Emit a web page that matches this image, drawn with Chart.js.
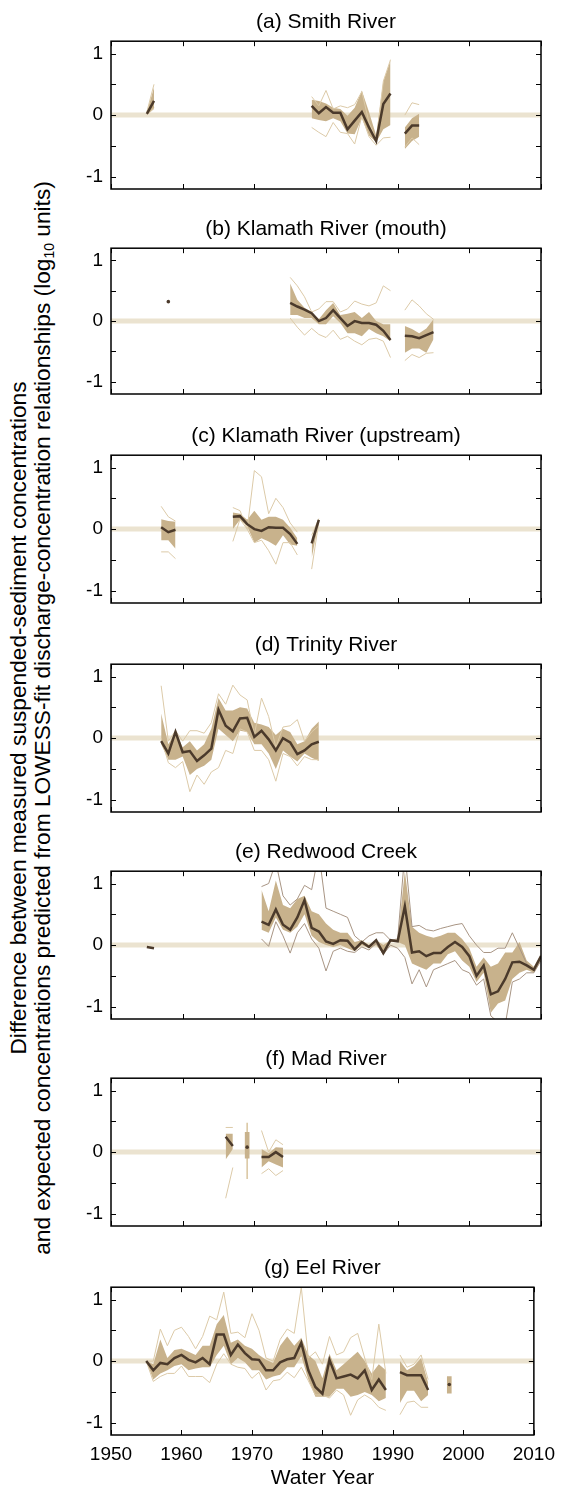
<!DOCTYPE html>
<html lang="en">
  <head>
    <meta charset="UTF-8" />
    <script src="https://cdn.jsdelivr.net/npm/chart.js"></script>
    <title>Suspended-sediment residuals, North Coast rivers</title>
    <style>
      body { margin: 0; background: #fff; }
      #page {
        position: relative;
        width: 563px;
        height: 1493px;
        overflow: hidden;
        font-family: "Liberation Sans", Arial, sans-serif;
      }
      .panel { position: absolute; left: 0; }
      #ylab {
        position: absolute;
        left: -670px;
        top: 694px;
        width: 1400px;
        line-height: 24px;
        font-size: 22.7px;
        text-align: center;
        white-space: nowrap;
        color: #000;
        transform: rotate(-90deg);
        transform-origin: 700px 24px;
      }
      #ylab sub { font-size: 14px; vertical-align: -4px; line-height: 0; }
    </style>
  </head>
  <body>
    <div id="page">
      <div id="ylab">Difference between measured suspended-sediment concentrations<br>and expected concentrations predicted from LOWESS-fit discharge-concentration relationships (log<sub>10</sub> units)</div>
    </div>
    <script>
      // axis setup
      const xRange = [1950, 2010];
      const xTickYears = [1950, 1960, 1970, 1980, 1990, 2000, 2010];
      const yTickVals = [-1, -0.5, 0, 0.5, 1];
      const zeroLine = [0, 0];

      // (a) Smith River  -- null rows break the line
      const aYears  = [1955, 1956, 1957, 1978, 1979, 1980, 1981, 1982, 1983, 1984, 1985, 1986, 1987, 1988, 1989, 1990, 1991, 1992, 1993];
      const aMed    = [0.02, 0.23, null, 0.15, 0.03, 0.13, 0.04, 0.04, -0.23, -0.09, 0.05, -0.2, -0.42, 0.18, 0.35, null, -0.3, -0.17, -0.17];
      const aBandHi = [0.05, 0.45, null, 0.25, 0.23, 0.19, 0.12, 0.1, -0.01, 0.12, 0.4, 0.05, -0.33, 0.55, 0.89, null, -0.2, -0.05, 0.02];
      const aBandLo = [0.0, 0.1, null, -0.05, -0.08, -0.1, -0.05, -0.1, -0.3, -0.31, -0.05, -0.33, -0.44, -0.23, -0.16, null, -0.55, -0.42, -0.35];
      const aEnvHi  = [0.05, 0.5, null, 0.3, 0.15, 0.4, 0.1, 0.15, 0.12, 0.17, 0.38, -0.12, -0.4, 0.55, 0.9, null, 0.0, 0.2, 0.17];
      const aEnvLo  = [0.0, 0.12, null, -0.2, -0.28, -0.35, -0.12, -0.28, -0.3, -0.47, -0.02, -0.35, -0.49, -0.37, -0.36, null, -0.52, -0.37, -0.48];

      // (b) Klamath River (mouth)
      const bYears  = [1958, 1959, 1975, 1976, 1977, 1978, 1979, 1980, 1981, 1982, 1983, 1984, 1985, 1986, 1987, 1988, 1989, 1990, 1991, 1992, 1993, 1994, 1995];
      const bMed    = [0.32, null, 0.3, 0.24, 0.19, 0.13, 0.0, 0.05, 0.18, 0.05, -0.08, 0.0, -0.03, -0.03, -0.06, -0.16, -0.31, null, -0.24, -0.25, -0.28, -0.23, -0.18];
      const bBandHi = [null, null, 0.62, 0.35, 0.22, 0.15, 0.03, 0.18, 0.3, 0.1, 0.12, 0.15, 0.05, 0.15, 0.0, -0.05, -0.05, null, -0.08, -0.13, -0.2, -0.12, 0.03];
      const bBandLo = [null, null, 0.1, 0.1, 0.05, 0.05, -0.05, -0.05, 0.08, -0.03, -0.2, -0.2, -0.25, -0.13, -0.2, -0.25, -0.33, null, -0.52, -0.45, -0.45, -0.52, -0.3];
      const bEnvHi  = [null, null, 0.72, 0.58, 0.4, 0.15, 0.2, 0.32, 0.32, 0.15, 0.2, 0.33, 0.28, 0.25, 0.3, 0.58, 0.5, null, 0.18, 0.35, 0.25, 0.12, 0.03];
      const bEnvLo  = [null, null, 0.05, -0.1, -0.23, -0.12, -0.22, -0.27, -0.15, -0.3, -0.25, -0.33, -0.39, -0.3, -0.28, -0.33, -0.6, null, -0.65, -0.55, -0.6, -0.53, -0.52];

      // (c) Klamath River (upstream)
      const cYears  = [1957, 1958, 1959, 1960, 1967, 1968, 1969, 1970, 1971, 1972, 1973, 1974, 1975, 1976, 1977, 1978, 1979];
      const cMed    = [0.03, -0.05, -0.01, null, 0.2, 0.21, 0.08, 0.0, -0.03, 0.03, 0.02, 0.02, -0.08, -0.24, null, -0.23, 0.15];
      const cBandHi = [0.16, 0.13, 0.12, null, 0.27, 0.25, 0.15, 0.3, 0.15, 0.2, 0.2, 0.15, 0.02, -0.15, null, -0.15, 0.17];
      const cBandLo = [-0.18, -0.18, -0.32, null, 0.0, 0.15, 0.05, -0.22, -0.15, -0.2, -0.27, -0.1, -0.25, -0.27, null, -0.47, 0.12];
      const cEnvHi  = [0.37, 0.2, 0.13, null, 0.35, 0.3, 0.0, 0.95, 0.85, 0.25, 0.5, 0.35, 0.1, -0.05, null, -0.1, 0.17];
      const cEnvLo  = [-0.37, -0.37, -0.48, null, -0.2, 0.16, 0.0, -0.22, -0.18, -0.35, -0.57, -0.22, -0.22, -0.42, null, -0.65, 0.12];

      // (d) Trinity River
      const dYears  = [1957, 1958, 1959, 1960, 1961, 1962, 1963, 1964, 1965, 1966, 1967, 1968, 1969, 1970, 1971, 1972, 1973, 1974, 1975, 1976, 1977, 1978, 1979];
      const dMed    = [-0.05, -0.25, 0.1, -0.23, -0.21, -0.37, -0.28, -0.17, 0.46, 0.2, 0.11, 0.32, 0.33, 0.02, 0.12, -0.02, -0.2, 0.0, -0.07, -0.26, -0.2, -0.1, -0.06];
      const dBandHi = [0.4, -0.1, 0.1, -0.15, -0.05, -0.2, -0.1, 0.15, 0.65, 0.45, 0.45, 0.5, 0.48, 0.25, 0.22, 0.18, 0.05, 0.15, 0.1, -0.1, -0.05, 0.15, 0.27];
      const dBandLo = [-0.1, -0.35, -0.35, -0.3, -0.6, -0.5, -0.45, -0.35, 0.15, 0.05, -0.05, 0.12, 0.1, -0.1, -0.1, -0.25, -0.5, -0.2, -0.3, -0.38, -0.25, -0.32, -0.37];
      const dEnvHi  = [0.85, -0.05, 0.12, -0.05, 0.12, 0.12, 0.08, 0.25, 0.72, 0.55, 0.86, 0.7, 0.62, 0.05, 0.65, 0.35, -0.15, 0.18, 0.2, 0.3, -0.05, 0.1, 0.2];
      const dEnvLo  = [0.0, -0.4, -0.48, -0.38, -0.87, -0.6, -0.75, -0.55, -0.48, -0.2, -0.25, 0.15, 0.1, -0.2, -0.2, -0.35, -0.7, -0.25, -0.3, -0.45, -0.3, -0.35, -0.35];

      // (e) Redwood Creek
      const eYears  = [1955, 1956, 1957, 1971, 1972, 1973, 1974, 1975, 1976, 1977, 1978, 1979, 1980, 1981, 1982, 1983, 1984, 1985, 1986, 1987, 1988, 1989, 1990,
                       1991, 1992, 1993, 1994, 1995, 1996, 1997, 1998, 1999, 2000, 2001, 2002, 2003, 2004, 2005, 2006, 2007, 2008, 2009, 2010];
      const eMed    = [-0.03, -0.05, null, 0.38, 0.33, 0.58, 0.33, 0.25, 0.45, 0.73, 0.28, 0.22, 0.06, 0.02, 0.08, 0.07, -0.07, 0.05, -0.03, 0.08, -0.13, 0.08, 0.06,
                       0.63, -0.12, -0.1, -0.18, -0.13, -0.13, -0.03, 0.05, -0.03, -0.18, -0.5, -0.33, -0.8, -0.75, -0.55, -0.28, -0.27, -0.33, -0.4, -0.18];
      const eBandHi = [null, null, null, 0.9, 0.55, 1.05, 0.65, 0.6, 0.75, 0.8, 0.55, 0.5, 0.35, 0.25, 0.2, 0.2, 0.05, 0.08, 0.0, 0.08, 0.0, 0.08, 0.1,
                       1.2, 0.3, 0.2, 0.15, 0.12, 0.15, 0.2, 0.2, 0.1, -0.05, -0.35, -0.2, -0.35, -0.3, -0.12, -0.12, 0.05, -0.25, -0.35, -0.15];
      const eBandLo = [null, null, null, 0.25, 0.2, 0.45, 0.25, 0.2, 0.3, 0.5, 0.15, 0.05, 0.0, -0.03, 0.0, -0.05, -0.1, 0.0, -0.05, 0.0, -0.15, 0.05, 0.05,
                       0.0, -0.3, -0.35, -0.4, -0.3, -0.3, -0.15, -0.1, -0.25, -0.35, -0.6, -0.45, -1.1, -0.95, -0.9, -0.55, -0.45, -0.4, -0.45, -0.25];
      const eEnvHi  = [null, null, null, 0.95, 1.0, 1.35, 0.8, 0.65, 0.75, 0.97, 0.9, 1.5, 0.6, 0.55, 0.5, 0.45, 0.15, 0.05, 0.15, 0.2, 0.2, 0.08, 0.1,
                       1.5, 0.3, 0.32, 0.25, 0.23, 0.27, 0.3, 0.33, 0.35, 0.15, 0.0, -0.12, -0.12, -0.05, -0.05, 0.2, -0.05, -0.3, -0.4, -0.2];
      const eEnvLo  = [null, null, null, 0.1, -0.02, 0.38, 0.15, -0.13, 0.2, 0.35, 0.1, -0.05, -0.42, -0.1, -0.05, -0.1, -0.12, -0.03, -0.08, 0.03, -0.15, 0.0, -0.05,
                       -0.2, -0.63, -0.4, -0.68, -0.4, -0.35, -0.3, -0.25, -0.4, -0.45, -0.65, -0.55, -1.15, -1.25, -1.3, -0.6, -0.55, -0.45, -0.45, -0.25];

      // (f) Mad River
      const fYears  = [1966, 1967, 1968, 1969, 1970, 1971, 1972, 1973, 1974];
      const fMed    = [0.25, 0.1, null, 0.08, null, -0.08, -0.08, 0.0, -0.08];
      const fBandHi = [0.3, 0.3, null, null, null, 0.05, -0.02, 0.08, 0.07];
      const fBandLo = [-0.12, 0.05, null, null, null, -0.25, -0.15, -0.2, -0.25];
      const fEnvHi  = [0.4, 0.4, null, null, null, 0.35, 0.0, 0.2, 0.12];
      const fEnvLo  = [-0.75, -0.25, null, null, null, -0.35, -0.27, -0.38, -0.3];
      const fIsoYears = [1969];
      const fIsoLo    = [-0.1];
      const fIsoHi    = [0.32];
      const fIsoEnvLo = [-0.43];
      const fIsoEnvHi = [0.47];

      // (g) Eel River
      const gYears  = [1955, 1956, 1957, 1958, 1959, 1960, 1961, 1962, 1963, 1964, 1965, 1966, 1967, 1968, 1969, 1970, 1971, 1972,
                       1973, 1974, 1975, 1976, 1977, 1978, 1979, 1980, 1981, 1982, 1983, 1984, 1985, 1986, 1987, 1988, 1989,
                       1990, 1991, 1992, 1993, 1994, 1995, 1996, 1998];
      const gMed    = [0.0, -0.15, -0.03, -0.05, 0.05, 0.1, 0.02, -0.02, 0.05, -0.05, 0.43, 0.43, 0.1, 0.27, 0.13, 0.03, 0.02, -0.15,
                       -0.15, -0.02, 0.03, 0.05, 0.3, -0.15, -0.42, -0.53, 0.02, -0.28, -0.25, -0.22, -0.28, -0.15, -0.47, -0.3, -0.47,
                       null, -0.18, -0.23, -0.23, -0.23, -0.47, null, -0.38];
      const gBandHi = [0.0, -0.05, 0.35, 0.05, 0.18, 0.2, 0.15, 0.1, 0.25, 0.25, 0.6, 0.75, 0.3, 0.35, 0.25, 0.2, 0.1, 0.02,
                       -0.03, 0.25, 0.4, 0.25, 0.38, 0.1, 0.0, -0.28, 0.12, -0.15, -0.05, 0.05, 0.15, 0.0, -0.2, -0.05, -0.15,
                       null, 0.0, -0.15, -0.08, 0.05, -0.35, null, null];
      const gBandLo = [0.0, -0.3, -0.2, -0.15, -0.08, -0.05, -0.15, -0.12, -0.1, -0.1, 0.1, 0.25, -0.05, 0.05, -0.02, -0.15, -0.15, -0.3,
                       -0.25, -0.22, -0.1, -0.1, 0.08, -0.3, -0.58, -0.58, -0.58, -0.45, -0.45, -0.58, -0.55, -0.5, -0.55, -0.65, -0.6,
                       null, -0.68, -0.48, -0.48, -0.65, -0.55, null, null];
      const gEnvHi  = [0.0, 0.0, 0.52, 0.25, 0.5, 0.55, 0.4, 0.2, 0.4, 0.73, 0.67, 1.12, 0.45, 0.47, 0.38, 0.77, 0.5, 0.05,
                       0.0, 0.35, 0.52, 0.45, 1.2, 0.05, 0.15, -0.05, 0.4, 0.1, 0.15, 0.38, 0.45, 0.05, -0.3, 0.6, -0.2,
                       null, 0.1, -0.1, -0.05, 0.1, -0.3, null, null];
      const gEnvLo  = [0.0, -0.33, -0.25, -0.2, -0.2, -0.08, -0.25, -0.25, -0.25, -0.35, -0.05, 0.12, -0.05, -0.1, -0.12, -0.28, -0.18, -0.47,
                       -0.32, -0.3, -0.18, -0.27, -0.1, -0.32, -0.55, -0.55, -0.6, -0.47, -0.55, -0.88, -0.63, -0.55, -0.62, -0.75, -0.8,
                       null, -0.87, -0.67, -0.65, -0.75, -0.75, null, null];
      const gIsoYears = [1998];
      const gIsoLo    = [-0.52];
      const gIsoHi    = [-0.25];

      const BAND = '#c8b28c';
      const ENV = '#dccaa8';
      const ENV_DARK = '#a89584';
      const MEDIAN = '#4b3a2b';
      const ZERO = '#ebe3d0';

      const panels = [
        { title: '(a) Smith River', top: 41, years: aYears, med: aMed, hi: aBandHi, lo: aBandLo, envHi: aEnvHi, envLo: aEnvLo },
        { title: '(b) Klamath River (mouth)', top: 248, years: bYears, med: bMed, hi: bBandHi, lo: bBandLo, envHi: bEnvHi, envLo: bEnvLo },
        { title: '(c) Klamath River (upstream)', top: 455, years: cYears, med: cMed, hi: cBandHi, lo: cBandLo, envHi: cEnvHi, envLo: cEnvLo },
        { title: '(d) Trinity River', top: 664, years: dYears, med: dMed, hi: dBandHi, lo: dBandLo, envHi: dEnvHi, envLo: dEnvLo },
        { title: '(e) Redwood Creek', top: 871, years: eYears, med: eMed, hi: eBandHi, lo: eBandLo, envHi: eEnvHi, envLo: eEnvLo, envColor: ENV_DARK },
        { title: '(f) Mad River', top: 1078, years: fYears, med: fMed, hi: fBandHi, lo: fBandLo, envHi: fEnvHi, envLo: fEnvLo,
          iso: { years: fIsoYears, lo: fIsoLo, hi: fIsoHi, envLo: fIsoEnvLo, envHi: fIsoEnvHi } },
        { title: '(g) Eel River', top: 1287, years: gYears, med: gMed, hi: gBandHi, lo: gBandLo, envHi: gEnvHi, envLo: gEnvLo,
          iso: { years: gIsoYears, lo: gIsoLo, hi: gIsoHi }, last: true }
      ];

      const PLOT_H = 148;
      const TITLE_H = 31;

      // box round the axes with ticks pointing inward
      const framePlugin = {
        id: 'frame',
        afterDatasetsDraw(chart) {
          const { ctx, chartArea: a, scales } = chart;
          ctx.save();
          ctx.strokeStyle = '#000';
          ctx.lineWidth = 1;
          ctx.beginPath();
          xTickYears.forEach(v => {
            const px = Math.round(scales.x.getPixelForValue(v)) + 0.5;
            ctx.moveTo(px, a.bottom); ctx.lineTo(px, a.bottom - 5);
            ctx.moveTo(px, a.top); ctx.lineTo(px, a.top + 5);
          });
          yTickVals.forEach(v => {
            const py = Math.round(scales.y.getPixelForValue(v)) + 0.5;
            ctx.moveTo(a.left, py); ctx.lineTo(a.left + 5, py);
            ctx.moveTo(a.right, py); ctx.lineTo(a.right - 5, py);
          });
          ctx.stroke();
          ctx.lineWidth = 1.5;
          ctx.strokeRect(a.left, a.top, a.right - a.left, a.bottom - a.top);
          ctx.restore();
        }
      };

      function pts(years, vals) {
        return years.map((yr, i) => ({ x: yr, y: vals[i] }));
      }

      // a lone median value gets a dot, since a line needs two points
      function loneDot(ctx) {
        const d = ctx.dataset.data;
        const i = ctx.dataIndex;
        const prev = d[i - 1], next = d[i + 1];
        const alone = d[i].y != null && (!prev || prev.y == null) && (!next || next.y == null);
        return alone ? 1.8 : 0;
      }

      const page = document.getElementById('page');
      Chart.defaults.font.family = '"Liberation Sans", Arial, sans-serif';
      Chart.defaults.color = '#000';

      panels.forEach(p => {
        const xHeight = p.last ? 56 : 0;
        const padBottom = p.last ? 4 : 2;
        const h = TITLE_H + PLOT_H + xHeight + padBottom;
        const canvas = document.createElement('canvas');
        canvas.className = 'panel';
        canvas.width = 563;
        canvas.height = h;
        canvas.style.top = (p.top - TITLE_H) + 'px';
        page.appendChild(canvas);

        const envColor = p.envColor || ENV;
        const datasets = [
          { data: pts(p.years, p.med), borderColor: MEDIAN, backgroundColor: MEDIAN, borderWidth: 2.5,
            pointRadius: loneDot, pointBorderWidth: 0, order: 0 },
          { data: pts(p.years, p.envHi), borderColor: envColor, borderWidth: 1, pointRadius: 0, order: 2 },
          { data: pts(p.years, p.envLo), borderColor: envColor, borderWidth: 1, pointRadius: 0, order: 2 },
          { data: pts(p.years, p.hi), borderWidth: 0, pointRadius: 0, fill: '+1', backgroundColor: BAND, order: 3 },
          { data: pts(p.years, p.lo), borderWidth: 0, pointRadius: 0, fill: false, order: 3 },
          { data: pts(xRange, zeroLine), borderColor: ZERO, borderWidth: 5, pointRadius: 0, order: 4 }
        ];
        if (p.iso) {
          datasets.push({
            type: 'bar', data: p.iso.years.map((yr, i) => ({ x: yr, y: [p.iso.lo[i], p.iso.hi[i]] })),
            backgroundColor: BAND, barThickness: 4, grouped: false, order: 1
          });
          if (p.iso.envLo) {
            datasets.push({
              type: 'bar', data: p.iso.years.map((yr, i) => ({ x: yr, y: [p.iso.envLo[i], p.iso.envHi[i]] })),
              backgroundColor: envColor, barThickness: 1, grouped: false, order: 2
            });
          }
        }
        datasets.forEach(d => { d.clip = 0; });

        new Chart(canvas.getContext('2d'), {
          type: 'line',
          data: { datasets },
          options: {
            responsive: false,
            animation: false,
            events: [],
            layout: { padding: { left: 0, right: 22, top: 0, bottom: padBottom } },
            elements: { line: { tension: 0 } },
            scales: {
              x: {
                type: 'linear',
                min: xRange[0],
                max: xRange[1],
                offset: false,
                display: !!p.last,
                afterBuildTicks: s => { s.ticks = xTickYears.map(v => ({ value: v })); },
                afterFit: s => { s.height = xHeight; },
                grid: { display: false, drawTicks: false, offset: false },
                border: { display: false },
                ticks: { font: { size: 19 }, padding: 8, maxRotation: 0, callback: v => String(v) },
                title: { display: true, text: 'Water Year', font: { size: 21 }, padding: { top: 0, bottom: 0 } }
              },
              y: {
                type: 'linear',
                min: -1.2,
                max: 1.2,
                beginAtZero: false,
                afterBuildTicks: s => { s.ticks = yTickVals.map(v => ({ value: v })); },
                // labels sit inside the range, so the axis needs no extra room above or below
                afterFit: s => { s.width = 111; s.paddingTop = 0; s.paddingBottom = 0; },
                grid: { display: false, drawTicks: false },
                border: { display: false },
                ticks: { font: { size: 19 }, padding: 8, callback: v => Number.isInteger(v) ? String(v) : '' }
              }
            },
            plugins: {
              legend: { display: false },
              tooltip: { enabled: false },
              title: { display: true, fullSize: false, text: p.title, font: { size: 21, weight: 'normal' }, padding: { top: 0, bottom: 6 } }
            }
          },
          plugins: [framePlugin]
        });
      });
    </script>
  </body>
</html>
